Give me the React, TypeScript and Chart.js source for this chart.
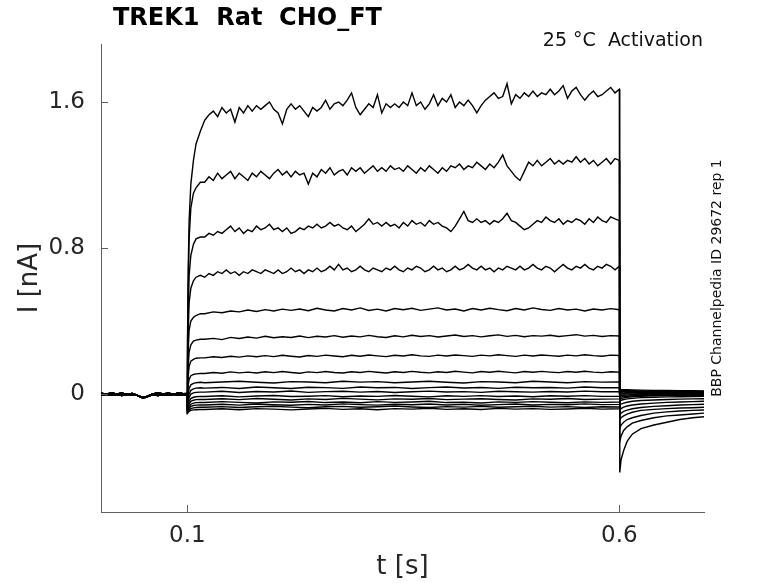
import React, { useEffect, useRef } from 'react';
import { Chart, registerables } from 'chart.js';

Chart.register(...registerables);

// Holding period before the step (shared by all sweeps)
const BASE_T = [0, 0.006, 0.012, 0.018, 0.024, 0.03, 0.036, 0.04, 0.044, 0.048, 0.052, 0.056, 0.06, 0.066, 0.072, 0.078, 0.084, 0.09, 0.095, 0.0998];
const BASE_A = [0.004, -0.001, 0.005, 0.0, 0.004, -0.001, 0.003, -0.003, -0.012, -0.018, -0.016, -0.007, 0.0, 0.005, 0.0, 0.004, -0.001, 0.005, 0.001, 0.003];
const BASE_B = [-0.006, -0.002, -0.007, -0.003, -0.008, -0.002, -0.006, -0.004, -0.013, -0.021, -0.018, -0.01, -0.004, -0.008, -0.003, -0.007, -0.002, -0.007, -0.003, -0.005];

// Onset of the step
const ONSET_T = [0.1, 0.1003, 0.101, 0.102, 0.104, 0.107, 0.11, 0.115];

// Step, fine sampling (largest sweeps)
const FINE_T = [
  0.12, 0.125, 0.13, 0.135, 0.14, 0.145, 0.15, 0.155, 0.16, 0.165,
  0.17, 0.175, 0.18, 0.185, 0.19, 0.195, 0.2, 0.205, 0.21, 0.215,
  0.22, 0.225, 0.23, 0.235, 0.24, 0.245, 0.25, 0.255, 0.26, 0.265,
  0.27, 0.275, 0.28, 0.285, 0.29, 0.295, 0.3, 0.305, 0.31, 0.315,
  0.32, 0.325, 0.33, 0.335, 0.34, 0.345, 0.35, 0.355, 0.36, 0.365,
  0.37, 0.375, 0.38, 0.385, 0.39, 0.395, 0.4, 0.405, 0.41, 0.415,
  0.42, 0.425, 0.43, 0.435, 0.44, 0.445, 0.45, 0.455, 0.46, 0.465,
  0.47, 0.475, 0.48, 0.485, 0.49, 0.495, 0.5, 0.505, 0.51, 0.515,
  0.52, 0.525, 0.53, 0.535, 0.54, 0.545, 0.55, 0.555, 0.56, 0.565,
  0.57, 0.575, 0.58, 0.585, 0.59, 0.595, 0.6,
];

// Step, medium sampling (middle sweeps)
const MID_T = [
  0.12, 0.13, 0.14, 0.15, 0.16, 0.17, 0.18, 0.19, 0.2, 0.21,
  0.22, 0.23, 0.24, 0.25, 0.26, 0.27, 0.28, 0.29, 0.3, 0.31,
  0.32, 0.33, 0.34, 0.35, 0.36, 0.37, 0.38, 0.39, 0.4, 0.41,
  0.42, 0.43, 0.44, 0.45, 0.46, 0.47, 0.48, 0.49, 0.5, 0.51,
  0.52, 0.53, 0.54, 0.55, 0.56, 0.57, 0.58, 0.59, 0.6,
];

// Step, coarse sampling (small sweeps near zero)
const COARSE_T = [0.12, 0.14, 0.16, 0.18, 0.2, 0.22, 0.24, 0.26, 0.28, 0.3, 0.32, 0.34, 0.36, 0.38, 0.4, 0.42, 0.44, 0.46, 0.48, 0.5, 0.52, 0.54, 0.56, 0.58, 0.6];

// Tail after the step
const TAIL_T = [0.6005, 0.602, 0.605, 0.609, 0.615, 0.625, 0.64, 0.655, 0.67, 0.685, 0.698];

const ONSET_1 = [-0.08, 0.3, 0.7, 0.95, 1.15, 1.28, 1.37, 1.44];
const PULSE_1 = [
  1.5, 1.53, 1.55, 1.52, 1.57, 1.54, 1.56, 1.49, 1.57, 1.54,
  1.58, 1.55, 1.58, 1.56, 1.58, 1.6, 1.56, 1.54, 1.48, 1.56,
  1.59, 1.56, 1.58, 1.55, 1.52, 1.57, 1.55, 1.57, 1.61, 1.56,
  1.59, 1.6, 1.58, 1.61, 1.65, 1.57, 1.53, 1.56, 1.59, 1.57,
  1.64, 1.54, 1.59, 1.57, 1.59, 1.57, 1.6, 1.58, 1.65, 1.58,
  1.6, 1.56, 1.59, 1.64, 1.58, 1.62, 1.6, 1.64, 1.57, 1.6,
  1.58, 1.61, 1.58, 1.54, 1.58, 1.61, 1.63, 1.65, 1.62, 1.63,
  1.7, 1.59, 1.64, 1.62, 1.65, 1.63, 1.66, 1.63, 1.65, 1.64,
  1.67, 1.64, 1.66, 1.69, 1.62, 1.66, 1.68, 1.64, 1.61, 1.64,
  1.66, 1.63, 1.64, 1.66, 1.68, 1.65, 1.67,
];
const TAIL_1 = [-0.43, -0.36, -0.31, -0.26, -0.22, -0.19, -0.17, -0.155, -0.14, -0.13, -0.125];

const ONSET_2 = [-0.08, 0.25, 0.6, 0.85, 1.02, 1.1, 1.13, 1.16];
const PULSE_2 = [
  1.16, 1.19, 1.17, 1.21, 1.18, 1.2, 1.22, 1.18, 1.21, 1.19,
  1.17, 1.21, 1.19, 1.22, 1.2, 1.18, 1.21, 1.23, 1.2, 1.22,
  1.19, 1.22, 1.2, 1.21, 1.15, 1.21, 1.19, 1.23, 1.21, 1.24,
  1.2, 1.22, 1.23, 1.2, 1.24, 1.22, 1.24, 1.21, 1.23, 1.25,
  1.22, 1.24, 1.22, 1.25, 1.23, 1.24, 1.22, 1.25, 1.23, 1.21,
  1.24, 1.22, 1.25, 1.23, 1.21, 1.24, 1.22, 1.25, 1.24, 1.26,
  1.23, 1.25, 1.24, 1.27, 1.25, 1.23, 1.26, 1.24, 1.27, 1.31,
  1.25, 1.22, 1.19, 1.17, 1.22, 1.27, 1.25, 1.28, 1.25, 1.27,
  1.29, 1.26, 1.28, 1.26, 1.28, 1.27, 1.3, 1.27, 1.29, 1.26,
  1.28, 1.25, 1.27, 1.29, 1.26, 1.29, 1.28,
];
const TAIL_2 = [-0.26, -0.23, -0.2, -0.18, -0.16, -0.145, -0.13, -0.12, -0.115, -0.11, -0.105];

const ONSET_3 = [-0.08, 0.2, 0.45, 0.65, 0.76, 0.82, 0.85, 0.86];
const PULSE_3 = [
  0.86, 0.88, 0.87, 0.89, 0.88, 0.9, 0.92, 0.89, 0.91, 0.88,
  0.9, 0.89, 0.92, 0.9, 0.91, 0.93, 0.9, 0.91, 0.89, 0.91,
  0.88, 0.89, 0.91, 0.9, 0.92, 0.91, 0.93, 0.91, 0.92, 0.94,
  0.92, 0.93, 0.91, 0.9, 0.92, 0.89, 0.91, 0.93, 0.96, 0.93,
  0.94, 0.92, 0.94, 0.92, 0.93, 0.91, 0.94, 0.92, 0.95, 0.93,
  0.94, 0.92, 0.95, 0.93, 0.94, 0.92, 0.91, 0.89, 0.92, 0.96,
  1.0, 0.95, 0.94, 0.96, 0.94, 0.95, 0.93, 0.95, 0.94, 0.96,
  0.99, 0.95, 0.94, 0.92, 0.9, 0.91, 0.93, 0.95, 0.94, 0.97,
  0.95, 0.94, 0.96, 0.93, 0.95, 0.94, 0.96, 0.95, 0.93, 0.96,
  0.94, 0.97, 0.95, 0.94, 0.97, 0.96, 0.95,
];
const TAIL_3 = [-0.19, -0.17, -0.155, -0.14, -0.13, -0.118, -0.105, -0.098, -0.093, -0.09, -0.088];

const ONSET_4 = [-0.08, 0.15, 0.35, 0.5, 0.58, 0.62, 0.64, 0.65];
const PULSE_4 = [
  0.64, 0.66, 0.65, 0.67, 0.66, 0.68, 0.66, 0.67, 0.65, 0.67,
  0.66, 0.68, 0.67, 0.66, 0.68, 0.67, 0.66, 0.68, 0.66, 0.67,
  0.69, 0.67, 0.68, 0.66, 0.68, 0.67, 0.69, 0.67, 0.68, 0.7,
  0.68, 0.71, 0.68, 0.69, 0.67, 0.68, 0.7, 0.68, 0.67, 0.69,
  0.68, 0.67, 0.69, 0.68, 0.7, 0.68, 0.67, 0.69, 0.68, 0.7,
  0.69, 0.67, 0.68, 0.7, 0.68, 0.69, 0.67, 0.68, 0.7, 0.68,
  0.69, 0.71, 0.69, 0.68, 0.7, 0.68, 0.69, 0.67, 0.69, 0.68,
  0.7, 0.69, 0.68, 0.7, 0.68, 0.69, 0.71, 0.69, 0.68, 0.7,
  0.69, 0.67, 0.69, 0.71, 0.69, 0.68, 0.7, 0.69, 0.71, 0.69,
  0.68, 0.7, 0.69, 0.71, 0.7, 0.68, 0.7,
];
const TAIL_4 = [-0.14, -0.13, -0.12, -0.11, -0.1, -0.09, -0.084, -0.08, -0.077, -0.075, -0.073];

const ONSET_5 = [-0.08, 0.1, 0.25, 0.35, 0.4, 0.42, 0.43, 0.44];
const PULSE_5 = [
  0.44, 0.45, 0.445, 0.455, 0.45, 0.46, 0.452, 0.462, 0.455, 0.465,
  0.458, 0.466, 0.456, 0.47, 0.46, 0.455, 0.468, 0.46, 0.472, 0.458,
  0.465, 0.455, 0.468, 0.462, 0.47, 0.458, 0.465, 0.472, 0.46, 0.466,
  0.455, 0.468, 0.46, 0.47, 0.462, 0.456, 0.468, 0.46, 0.472, 0.463,
  0.458, 0.468, 0.46, 0.465, 0.455, 0.466, 0.46, 0.468, 0.462,
];
const TAIL_5 = [-0.115, -0.105, -0.095, -0.088, -0.081, -0.074, -0.068, -0.064, -0.06, -0.058, -0.056];

const ONSET_6 = [-0.08, 0.05, 0.15, 0.23, 0.27, 0.29, 0.295, 0.3];
const PULSE_6 = [
  0.3, 0.305, 0.298, 0.31, 0.304, 0.312, 0.306, 0.316, 0.308, 0.314,
  0.31, 0.318, 0.309, 0.316, 0.312, 0.32, 0.311, 0.318, 0.313, 0.321,
  0.314, 0.31, 0.319, 0.313, 0.322, 0.315, 0.32, 0.312, 0.318, 0.323,
  0.315, 0.32, 0.313, 0.319, 0.324, 0.316, 0.321, 0.314, 0.32, 0.317,
  0.322, 0.315, 0.32, 0.325, 0.317, 0.321, 0.315, 0.32, 0.318,
];
const TAIL_6 = [-0.09, -0.08, -0.072, -0.066, -0.06, -0.055, -0.05, -0.046, -0.044, -0.042, -0.04];

const ONSET_7 = [-0.09, 0.02, 0.1, 0.15, 0.18, 0.19, 0.196, 0.198];
const PULSE_7 = [
  0.198, 0.204, 0.2, 0.207, 0.202, 0.209, 0.204, 0.21, 0.205, 0.212,
  0.207, 0.203, 0.211, 0.206, 0.213, 0.208, 0.204, 0.212, 0.207, 0.214,
  0.209, 0.205, 0.212, 0.208, 0.215, 0.209, 0.206, 0.213, 0.208, 0.214,
  0.21, 0.206, 0.213, 0.209, 0.215, 0.21, 0.206, 0.213, 0.208, 0.214,
  0.21, 0.207, 0.213, 0.209, 0.215, 0.21, 0.207, 0.213, 0.211,
];
const TAIL_7 = [-0.06, -0.055, -0.05, -0.045, -0.04, -0.036, -0.033, -0.03, -0.028, -0.027, -0.026];

const ONSET_8 = [-0.09, 0.0, 0.05, 0.08, 0.1, 0.107, 0.11, 0.112];
const PULSE_8 = [
  0.112, 0.118, 0.114, 0.121, 0.116, 0.12, 0.115, 0.122, 0.117, 0.123,
  0.118, 0.114, 0.121, 0.117, 0.123, 0.118, 0.115, 0.122, 0.118, 0.124,
  0.119, 0.115, 0.122, 0.118, 0.124, 0.119, 0.116, 0.122, 0.118, 0.125,
  0.12, 0.116, 0.123, 0.119, 0.125, 0.12, 0.116, 0.123, 0.119, 0.124,
  0.12, 0.117, 0.123, 0.119, 0.125, 0.12, 0.117, 0.122, 0.12,
];
const TAIL_8 = [-0.04, -0.035, -0.03, -0.027, -0.024, -0.02, -0.018, -0.016, -0.015, -0.014, -0.013];

const ONSET_9 = [-0.09, -0.04, 0.0, 0.03, 0.05, 0.058, 0.062, 0.064];
const PULSE_9 = [0.062, 0.066, 0.07, 0.064, 0.06, 0.068, 0.066, 0.062, 0.07, 0.065, 0.068, 0.062, 0.066, 0.07, 0.064, 0.06, 0.068, 0.066, 0.062, 0.07, 0.066, 0.062, 0.068, 0.065, 0.066];
const TAIL_9 = [-0.03, -0.025, -0.021, -0.018, -0.015, -0.012, -0.01, -0.009, -0.008, -0.008, -0.007];

const ONSET_10 = [-0.09, -0.06, -0.03, 0.0, 0.02, 0.028, 0.032, 0.034];
const PULSE_10 = [0.032, 0.036, 0.03, 0.038, 0.034, 0.03, 0.037, 0.035, 0.031, 0.038, 0.034, 0.036, 0.03, 0.035, 0.038, 0.033, 0.036, 0.031, 0.037, 0.034, 0.036, 0.032, 0.038, 0.034, 0.035];
const TAIL_10 = [-0.02, -0.017, -0.014, -0.012, -0.01, -0.008, -0.006, -0.005, -0.005, -0.004, -0.004];

const ONSET_11 = [-0.1, -0.07, -0.045, -0.02, 0.0, 0.006, 0.009, 0.01];
const PULSE_11 = [0.01, 0.015, 0.008, 0.014, 0.011, 0.016, 0.009, 0.013, 0.015, 0.01, 0.014, 0.008, 0.012, 0.016, 0.011, 0.013, 0.009, 0.015, 0.012, 0.01, 0.014, 0.011, 0.016, 0.012, 0.013];
const TAIL_11 = [-0.01, -0.008, -0.007, -0.006, -0.005, -0.004, -0.003, -0.003, -0.002, -0.002, -0.002];

const ONSET_12 = [-0.1, -0.08, -0.06, -0.04, -0.025, -0.018, -0.015, -0.013];
const PULSE_12 = [-0.014, -0.01, -0.016, -0.011, -0.008, -0.014, -0.012, -0.009, -0.015, -0.011, -0.013, -0.008, -0.012, -0.016, -0.01, -0.013, -0.009, -0.014, -0.011, -0.015, -0.01, -0.012, -0.009, -0.013, -0.012];
const TAIL_12 = [0.0, 0.0, 0.001, 0.0, -0.001, 0.0, 0.001, 0.0, 0.001, 0.0, 0.0];

const ONSET_13 = [-0.1, -0.085, -0.07, -0.055, -0.04, -0.034, -0.031, -0.03];
const PULSE_13 = [-0.03, -0.026, -0.031, -0.025, -0.029, -0.033, -0.027, -0.03, -0.024, -0.028, -0.032, -0.027, -0.029, -0.025, -0.031, -0.028, -0.026, -0.03, -0.033, -0.027, -0.029, -0.025, -0.03, -0.028, -0.027];
const TAIL_13 = [0.005, 0.006, 0.005, 0.006, 0.005, 0.004, 0.005, 0.004, 0.005, 0.004, 0.004];

const ONSET_14 = [-0.1, -0.09, -0.08, -0.068, -0.056, -0.05, -0.047, -0.046];
const PULSE_14 = [-0.047, -0.042, -0.046, -0.049, -0.043, -0.045, -0.041, -0.047, -0.044, -0.048, -0.042, -0.046, -0.044, -0.04, -0.047, -0.045, -0.049, -0.043, -0.046, -0.042, -0.045, -0.048, -0.043, -0.046, -0.044];
const TAIL_14 = [0.01, 0.011, 0.01, 0.009, 0.01, 0.009, 0.008, 0.009, 0.008, 0.008, 0.007];

const ONSET_15 = [-0.1, -0.095, -0.088, -0.078, -0.068, -0.063, -0.061, -0.06];
const PULSE_15 = [-0.06, -0.056, -0.061, -0.055, -0.059, -0.062, -0.057, -0.06, -0.054, -0.058, -0.061, -0.056, -0.059, -0.055, -0.06, -0.057, -0.062, -0.058, -0.055, -0.06, -0.057, -0.059, -0.054, -0.058, -0.057];
const TAIL_15 = [0.015, 0.016, 0.015, 0.014, 0.014, 0.013, 0.012, 0.012, 0.011, 0.011, 0.01];

const ONSET_16 = [-0.105, -0.1, -0.095, -0.088, -0.08, -0.076, -0.074, -0.073];
const PULSE_16 = [-0.073, -0.069, -0.074, -0.07, -0.067, -0.072, -0.075, -0.07, -0.068, -0.073, -0.07, -0.066, -0.071, -0.074, -0.069, -0.072, -0.068, -0.073, -0.07, -0.067, -0.072, -0.069, -0.074, -0.07, -0.071];
const TAIL_16 = [0.02, 0.02, 0.019, 0.019, 0.018, 0.017, 0.016, 0.016, 0.015, 0.014, 0.014];

const ONSET_17 = [-0.11, -0.105, -0.1, -0.095, -0.09, -0.087, -0.086, -0.085];
const PULSE_17 = [-0.085, -0.081, -0.086, -0.08, -0.083, -0.087, -0.082, -0.079, -0.084, -0.081, -0.086, -0.08, -0.083, -0.078, -0.084, -0.081, -0.085, -0.079, -0.083, -0.08, -0.084, -0.082, -0.078, -0.083, -0.081];
const TAIL_17 = [0.026, 0.025, 0.024, 0.023, 0.022, 0.021, 0.02, 0.019, 0.018, 0.018, 0.017];

const SWEEPS = [
  { base: BASE_A, onset: ONSET_1, pulseT: FINE_T, pulse: PULSE_1, tail: TAIL_1 },
  { base: BASE_B, onset: ONSET_2, pulseT: FINE_T, pulse: PULSE_2, tail: TAIL_2 },
  { base: BASE_A, onset: ONSET_3, pulseT: FINE_T, pulse: PULSE_3, tail: TAIL_3 },
  { base: BASE_B, onset: ONSET_4, pulseT: FINE_T, pulse: PULSE_4, tail: TAIL_4 },
  { base: BASE_A, onset: ONSET_5, pulseT: MID_T, pulse: PULSE_5, tail: TAIL_5 },
  { base: BASE_B, onset: ONSET_6, pulseT: MID_T, pulse: PULSE_6, tail: TAIL_6 },
  { base: BASE_A, onset: ONSET_7, pulseT: MID_T, pulse: PULSE_7, tail: TAIL_7 },
  { base: BASE_B, onset: ONSET_8, pulseT: MID_T, pulse: PULSE_8, tail: TAIL_8 },
  { base: BASE_A, onset: ONSET_9, pulseT: COARSE_T, pulse: PULSE_9, tail: TAIL_9 },
  { base: BASE_B, onset: ONSET_10, pulseT: COARSE_T, pulse: PULSE_10, tail: TAIL_10 },
  { base: BASE_A, onset: ONSET_11, pulseT: COARSE_T, pulse: PULSE_11, tail: TAIL_11 },
  { base: BASE_B, onset: ONSET_12, pulseT: COARSE_T, pulse: PULSE_12, tail: TAIL_12 },
  { base: BASE_A, onset: ONSET_13, pulseT: COARSE_T, pulse: PULSE_13, tail: TAIL_13 },
  { base: BASE_B, onset: ONSET_14, pulseT: COARSE_T, pulse: PULSE_14, tail: TAIL_14 },
  { base: BASE_A, onset: ONSET_15, pulseT: COARSE_T, pulse: PULSE_15, tail: TAIL_15 },
  { base: BASE_B, onset: ONSET_16, pulseT: COARSE_T, pulse: PULSE_16, tail: TAIL_16 },
  { base: BASE_A, onset: ONSET_17, pulseT: COARSE_T, pulse: PULSE_17, tail: TAIL_17 },
];

const X_TICKS = [0.1, 0.6];
const X_TICK_LABELS = ['0.1', '0.6'];
const Y_TICKS = [0, 0.8, 1.6];
const Y_TICK_LABELS = ['0', '0.8', '1.6'];

const TITLE = 'TREK1  Rat  CHO_FT';
const SUBTITLE = '25 °C  Activation';
const SIDE_NOTE = 'BBP Channelpedia ID 29672 rep 1';

const FONT = '"DejaVu Sans", sans-serif';
const AXIS_COLOR = '#5f5f5f';
const TEXT_COLOR = '#262626';

const pairs = (ts: number[], vs: number[]) => ts.map((t, i) => ({ x: t, y: vs[i] }));

const textPlugin = {
  id: 'figureText',
  afterDraw(chart: any) {
    const { ctx, chartArea, scales } = chart;
    ctx.save();
    // inward tick marks
    ctx.strokeStyle = AXIS_COLOR;
    ctx.lineWidth = 1;
    X_TICKS.forEach((v) => {
      const px = Math.round(scales.x.getPixelForValue(v)) + 0.5;
      ctx.beginPath();
      ctx.moveTo(px, chartArea.bottom);
      ctx.lineTo(px, chartArea.bottom - 7);
      ctx.stroke();
    });
    Y_TICKS.forEach((v) => {
      const py = Math.round(scales.y.getPixelForValue(v)) + 0.5;
      ctx.beginPath();
      ctx.moveTo(chartArea.left, py);
      ctx.lineTo(chartArea.left + 7, py);
      ctx.stroke();
    });

    ctx.fillStyle = '#000';
    ctx.textBaseline = 'middle';
    ctx.textAlign = 'left';
    ctx.font = `bold 24px ${FONT}`;
    ctx.fillText(TITLE, 113, 19);

    ctx.fillStyle = '#111';
    ctx.textAlign = 'right';
    ctx.font = `19px ${FONT}`;
    ctx.fillText(SUBTITLE, 703, 41);

    ctx.translate(717, 278);
    ctx.rotate(-Math.PI / 2);
    ctx.textAlign = 'center';
    ctx.font = `14px ${FONT}`;
    ctx.fillText(SIDE_NOTE, 0, 0);
    ctx.restore();
  },
};

const App: React.FC = () => {
  const canvasRef = useRef<HTMLCanvasElement>(null);

  useEffect(() => {
    if (!canvasRef.current) return;
    const datasets = SWEEPS.map((s, i) => ({
      label: `sweep ${i + 1}`,
      data: [
        ...pairs(BASE_T, s.base),
        ...pairs(ONSET_T, s.onset),
        ...pairs(s.pulseT, s.pulse),
        ...pairs(TAIL_T, s.tail),
      ],
      borderColor: '#000',
      borderWidth: 1.4,
      pointRadius: 0,
      tension: 0,
      fill: false,
    }));

    const chart = new Chart(canvasRef.current, {
      type: 'line',
      data: { datasets },
      options: {
        animation: false,
        responsive: false,
        devicePixelRatio: 1,
        layout: { padding: { left: 0, top: 44, right: 74, bottom: 0 } },
        scales: {
          x: {
            type: 'linear',
            min: 0,
            max: 0.698,
            afterBuildTicks: (scale: any) => {
              scale.ticks = X_TICKS.map((v) => ({ value: v }));
            },
            afterFit: (scale: any) => {
              scale.height = 71;
            },
            ticks: {
              padding: 10,
              color: TEXT_COLOR,
              font: { family: FONT, size: 23 },
              callback: (v: any) => X_TICK_LABELS[X_TICKS.indexOf(Number(v))] ?? '',
            },
            grid: { drawOnChartArea: false, drawTicks: false },
            border: { color: AXIS_COLOR, width: 1 },
            title: {
              display: true,
              text: 't [s]',
              color: TEXT_COLOR,
              font: { family: FONT, size: 26 },
              padding: { top: 0, bottom: 0 },
            },
          },
          y: {
            type: 'linear',
            min: -0.6466,
            max: 1.9178,
            afterBuildTicks: (scale: any) => {
              scale.ticks = Y_TICKS.map((v) => ({ value: v }));
            },
            afterFit: (scale: any) => {
              scale.width = 101;
            },
            ticks: {
              padding: 16,
              color: TEXT_COLOR,
              font: { family: FONT, size: 23 },
              callback: (v: any) => Y_TICK_LABELS[Y_TICKS.indexOf(Number(v))] ?? '',
            },
            grid: { drawOnChartArea: false, drawTicks: false },
            border: { color: AXIS_COLOR, width: 1 },
            title: {
              display: true,
              text: 'I [nA]',
              color: TEXT_COLOR,
              font: { family: FONT, size: 26 },
              padding: { top: 15, bottom: 0 },
            },
          },
        },
        plugins: {
          legend: { display: false },
          tooltip: { enabled: false },
        },
      },
      plugins: [textPlugin],
    });

    return () => {
      chart.destroy();
    };
  }, []);

  return (
    <div style={{ position: 'absolute', left: 0, top: 0, width: 778, height: 583, background: '#fff' }}>
      <canvas ref={canvasRef} width={778} height={583} />
    </div>
  );
};

export default App;
